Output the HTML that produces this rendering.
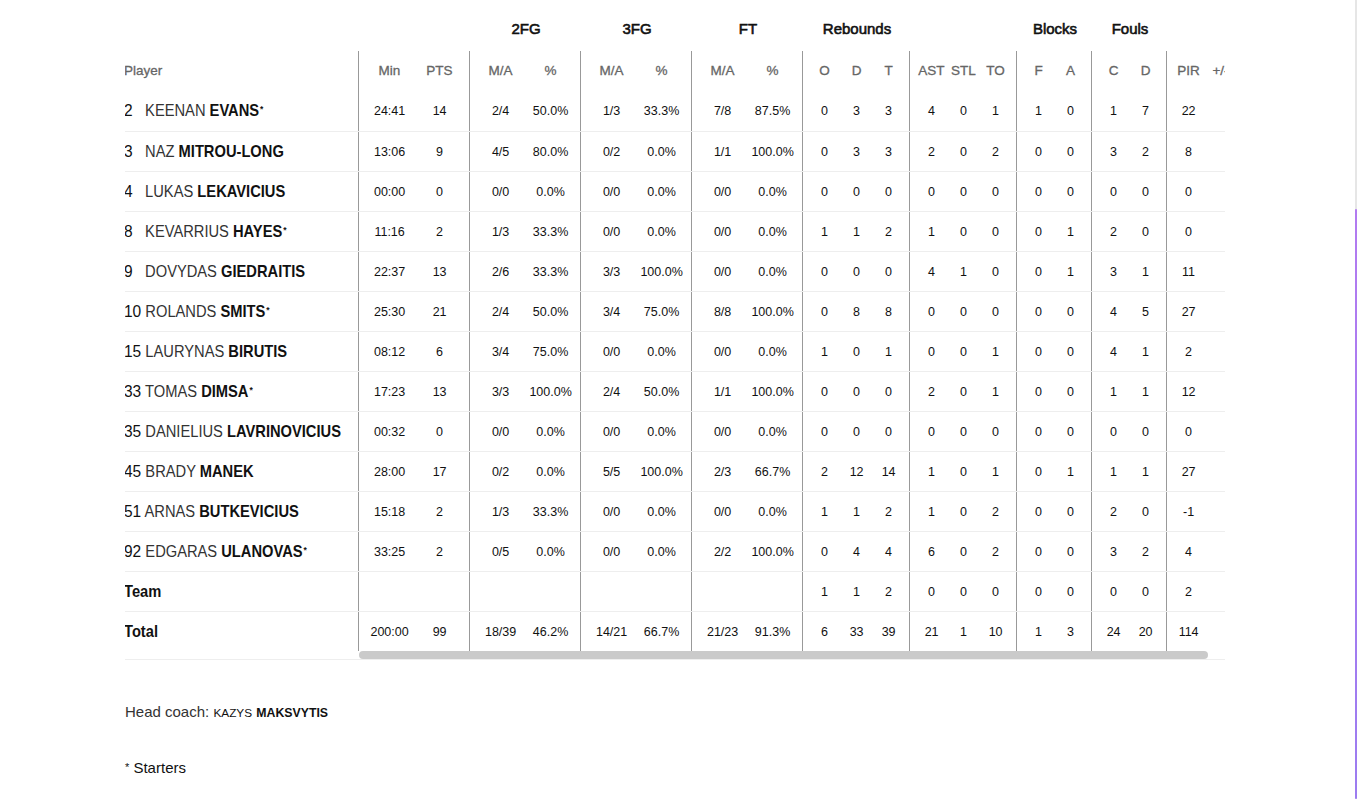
<!DOCTYPE html><html><head><meta charset="utf-8"><title>Box score</title><style>
*{box-sizing:border-box;margin:0;padding:0}
html,body{width:1357px;height:799px;overflow:hidden;background:#fff}
body{font-family:"Liberation Sans",sans-serif;color:#111;position:relative}
.a{position:absolute}
.clip{position:absolute;left:125px;top:0;width:1100px;height:700px;overflow:hidden}
.g{position:absolute;top:17px;height:24px;line-height:24px;font-size:15px;font-weight:normal;-webkit-text-stroke:0.6px #111;text-align:center;color:#111}
.h{position:absolute;height:40px;line-height:40px;font-size:13.5px;color:#666;-webkit-text-stroke:0.3px #666;text-align:center;white-space:nowrap}
.c{position:absolute;height:40px;line-height:40px;font-size:12.5px;color:#111;text-align:center;white-space:nowrap}
.p{position:absolute;left:-1px;height:40px;line-height:40px;font-size:14.7px;color:#111;white-space:nowrap;transform:scaleY(1.09);transform-origin:0 25px}
.p .n{display:inline-block;min-width:17px;font-size:15.5px}
.p b{font-weight:bold}
.p .f{color:#333}
.p sup{font-size:8.5px;vertical-align:4px;line-height:0;margin-left:1px;font-weight:bold}
.rl{position:absolute;left:0;width:1100px;height:1px;background:#eee}
.vl{position:absolute;top:51px;width:1px;height:600px;background:#999}
.sb{position:absolute;left:1px;top:651px;width:849px;height:8px;border-radius:4px;background:#cacaca}
.vs{position:absolute;left:1355px;top:0;width:2px;height:799px;background:#e6e6e6}
.vt{position:absolute;left:1355px;top:209px;width:2px;height:590px;border-radius:1px;background:linear-gradient(#b27bf0,#9c7cf0)}
.foot{position:absolute;left:125px;font-size:15px;color:#111;white-space:nowrap}
</style></head><body>
<div class="clip">
<div class="g" style="left:345px;width:112px">2FG</div>
<div class="g" style="left:456px;width:112px">3FG</div>
<div class="g" style="left:567px;width:112px">FT</div>
<div class="g" style="left:678px;width:108px">Rebounds</div>
<div class="g" style="left:892px;width:76px">Blocks</div>
<div class="g" style="left:967px;width:76px">Fouls</div>
<div class="vl" style="left:233px"></div>
<div class="vl" style="left:344px"></div>
<div class="vl" style="left:455px"></div>
<div class="vl" style="left:566px"></div>
<div class="vl" style="left:677px"></div>
<div class="vl" style="left:784px"></div>
<div class="vl" style="left:891px"></div>
<div class="vl" style="left:966px"></div>
<div class="vl" style="left:1041px"></div>
<div class="h" style="left:-1px;top:51px;text-align:left">Player</div>
<div class="h" style="left:239.5px;top:51px;width:50px">Min</div>
<div class="h" style="left:289.5px;top:51px;width:50px">PTS</div>
<div class="h" style="left:350.5px;top:51px;width:50px">M/A</div>
<div class="h" style="left:400.5px;top:51px;width:50px">%</div>
<div class="h" style="left:461.5px;top:51px;width:50px">M/A</div>
<div class="h" style="left:511.5px;top:51px;width:50px">%</div>
<div class="h" style="left:572.5px;top:51px;width:50px">M/A</div>
<div class="h" style="left:622.5px;top:51px;width:50px">%</div>
<div class="h" style="left:683.5px;top:51px;width:32px">O</div>
<div class="h" style="left:715.5px;top:51px;width:32px">D</div>
<div class="h" style="left:747.5px;top:51px;width:32px">T</div>
<div class="h" style="left:790.5px;top:51px;width:32px">AST</div>
<div class="h" style="left:822.5px;top:51px;width:32px">STL</div>
<div class="h" style="left:854.5px;top:51px;width:32px">TO</div>
<div class="h" style="left:897.5px;top:51px;width:32px">F</div>
<div class="h" style="left:929.5px;top:51px;width:32px">A</div>
<div class="h" style="left:972.5px;top:51px;width:32px">C</div>
<div class="h" style="left:1004.5px;top:51px;width:32px">D</div>
<div class="h" style="left:1047.5px;top:51px;width:32px">PIR</div>
<div class="h" style="left:1079.5px;top:51px;width:32px">+/-</div>
<div class="p" style="top:91px"><span class="n">2</span> <span class="f">KEENAN</span> <b>EVANS</b><sup>*</sup></div>
<div class="c" style="left:239.6px;top:91px;width:50px">24:41</div>
<div class="c" style="left:289.6px;top:91px;width:50px">14</div>
<div class="c" style="left:350.6px;top:91px;width:50px">2/4</div>
<div class="c" style="left:400.6px;top:91px;width:50px">50.0%</div>
<div class="c" style="left:461.6px;top:91px;width:50px">1/3</div>
<div class="c" style="left:511.6px;top:91px;width:50px">33.3%</div>
<div class="c" style="left:572.6px;top:91px;width:50px">7/8</div>
<div class="c" style="left:622.6px;top:91px;width:50px">87.5%</div>
<div class="c" style="left:683.6px;top:91px;width:32px">0</div>
<div class="c" style="left:715.6px;top:91px;width:32px">3</div>
<div class="c" style="left:747.6px;top:91px;width:32px">3</div>
<div class="c" style="left:790.6px;top:91px;width:32px">4</div>
<div class="c" style="left:822.6px;top:91px;width:32px">0</div>
<div class="c" style="left:854.6px;top:91px;width:32px">1</div>
<div class="c" style="left:897.6px;top:91px;width:32px">1</div>
<div class="c" style="left:929.6px;top:91px;width:32px">0</div>
<div class="c" style="left:972.6px;top:91px;width:32px">1</div>
<div class="c" style="left:1004.6px;top:91px;width:32px">7</div>
<div class="c" style="left:1047.6px;top:91px;width:32px">22</div>
<div class="p" style="top:132px"><span class="n">3</span> <span class="f">NAZ</span> <b>MITROU-LONG</b></div>
<div class="c" style="left:239.6px;top:132px;width:50px">13:06</div>
<div class="c" style="left:289.6px;top:132px;width:50px">9</div>
<div class="c" style="left:350.6px;top:132px;width:50px">4/5</div>
<div class="c" style="left:400.6px;top:132px;width:50px">80.0%</div>
<div class="c" style="left:461.6px;top:132px;width:50px">0/2</div>
<div class="c" style="left:511.6px;top:132px;width:50px">0.0%</div>
<div class="c" style="left:572.6px;top:132px;width:50px">1/1</div>
<div class="c" style="left:622.6px;top:132px;width:50px">100.0%</div>
<div class="c" style="left:683.6px;top:132px;width:32px">0</div>
<div class="c" style="left:715.6px;top:132px;width:32px">3</div>
<div class="c" style="left:747.6px;top:132px;width:32px">3</div>
<div class="c" style="left:790.6px;top:132px;width:32px">2</div>
<div class="c" style="left:822.6px;top:132px;width:32px">0</div>
<div class="c" style="left:854.6px;top:132px;width:32px">2</div>
<div class="c" style="left:897.6px;top:132px;width:32px">0</div>
<div class="c" style="left:929.6px;top:132px;width:32px">0</div>
<div class="c" style="left:972.6px;top:132px;width:32px">3</div>
<div class="c" style="left:1004.6px;top:132px;width:32px">2</div>
<div class="c" style="left:1047.6px;top:132px;width:32px">8</div>
<div class="p" style="top:172px"><span class="n">4</span> <span class="f">LUKAS</span> <b>LEKAVICIUS</b></div>
<div class="c" style="left:239.6px;top:172px;width:50px">00:00</div>
<div class="c" style="left:289.6px;top:172px;width:50px">0</div>
<div class="c" style="left:350.6px;top:172px;width:50px">0/0</div>
<div class="c" style="left:400.6px;top:172px;width:50px">0.0%</div>
<div class="c" style="left:461.6px;top:172px;width:50px">0/0</div>
<div class="c" style="left:511.6px;top:172px;width:50px">0.0%</div>
<div class="c" style="left:572.6px;top:172px;width:50px">0/0</div>
<div class="c" style="left:622.6px;top:172px;width:50px">0.0%</div>
<div class="c" style="left:683.6px;top:172px;width:32px">0</div>
<div class="c" style="left:715.6px;top:172px;width:32px">0</div>
<div class="c" style="left:747.6px;top:172px;width:32px">0</div>
<div class="c" style="left:790.6px;top:172px;width:32px">0</div>
<div class="c" style="left:822.6px;top:172px;width:32px">0</div>
<div class="c" style="left:854.6px;top:172px;width:32px">0</div>
<div class="c" style="left:897.6px;top:172px;width:32px">0</div>
<div class="c" style="left:929.6px;top:172px;width:32px">0</div>
<div class="c" style="left:972.6px;top:172px;width:32px">0</div>
<div class="c" style="left:1004.6px;top:172px;width:32px">0</div>
<div class="c" style="left:1047.6px;top:172px;width:32px">0</div>
<div class="p" style="top:212px"><span class="n">8</span> <span class="f">KEVARRIUS</span> <b>HAYES</b><sup>*</sup></div>
<div class="c" style="left:239.6px;top:212px;width:50px">11:16</div>
<div class="c" style="left:289.6px;top:212px;width:50px">2</div>
<div class="c" style="left:350.6px;top:212px;width:50px">1/3</div>
<div class="c" style="left:400.6px;top:212px;width:50px">33.3%</div>
<div class="c" style="left:461.6px;top:212px;width:50px">0/0</div>
<div class="c" style="left:511.6px;top:212px;width:50px">0.0%</div>
<div class="c" style="left:572.6px;top:212px;width:50px">0/0</div>
<div class="c" style="left:622.6px;top:212px;width:50px">0.0%</div>
<div class="c" style="left:683.6px;top:212px;width:32px">1</div>
<div class="c" style="left:715.6px;top:212px;width:32px">1</div>
<div class="c" style="left:747.6px;top:212px;width:32px">2</div>
<div class="c" style="left:790.6px;top:212px;width:32px">1</div>
<div class="c" style="left:822.6px;top:212px;width:32px">0</div>
<div class="c" style="left:854.6px;top:212px;width:32px">0</div>
<div class="c" style="left:897.6px;top:212px;width:32px">0</div>
<div class="c" style="left:929.6px;top:212px;width:32px">1</div>
<div class="c" style="left:972.6px;top:212px;width:32px">2</div>
<div class="c" style="left:1004.6px;top:212px;width:32px">0</div>
<div class="c" style="left:1047.6px;top:212px;width:32px">0</div>
<div class="p" style="top:252px"><span class="n">9</span> <span class="f">DOVYDAS</span> <b>GIEDRAITIS</b></div>
<div class="c" style="left:239.6px;top:252px;width:50px">22:37</div>
<div class="c" style="left:289.6px;top:252px;width:50px">13</div>
<div class="c" style="left:350.6px;top:252px;width:50px">2/6</div>
<div class="c" style="left:400.6px;top:252px;width:50px">33.3%</div>
<div class="c" style="left:461.6px;top:252px;width:50px">3/3</div>
<div class="c" style="left:511.6px;top:252px;width:50px">100.0%</div>
<div class="c" style="left:572.6px;top:252px;width:50px">0/0</div>
<div class="c" style="left:622.6px;top:252px;width:50px">0.0%</div>
<div class="c" style="left:683.6px;top:252px;width:32px">0</div>
<div class="c" style="left:715.6px;top:252px;width:32px">0</div>
<div class="c" style="left:747.6px;top:252px;width:32px">0</div>
<div class="c" style="left:790.6px;top:252px;width:32px">4</div>
<div class="c" style="left:822.6px;top:252px;width:32px">1</div>
<div class="c" style="left:854.6px;top:252px;width:32px">0</div>
<div class="c" style="left:897.6px;top:252px;width:32px">0</div>
<div class="c" style="left:929.6px;top:252px;width:32px">1</div>
<div class="c" style="left:972.6px;top:252px;width:32px">3</div>
<div class="c" style="left:1004.6px;top:252px;width:32px">1</div>
<div class="c" style="left:1047.6px;top:252px;width:32px">11</div>
<div class="p" style="top:292px"><span class="n">10</span> <span class="f">ROLANDS</span> <b>SMITS</b><sup>*</sup></div>
<div class="c" style="left:239.6px;top:292px;width:50px">25:30</div>
<div class="c" style="left:289.6px;top:292px;width:50px">21</div>
<div class="c" style="left:350.6px;top:292px;width:50px">2/4</div>
<div class="c" style="left:400.6px;top:292px;width:50px">50.0%</div>
<div class="c" style="left:461.6px;top:292px;width:50px">3/4</div>
<div class="c" style="left:511.6px;top:292px;width:50px">75.0%</div>
<div class="c" style="left:572.6px;top:292px;width:50px">8/8</div>
<div class="c" style="left:622.6px;top:292px;width:50px">100.0%</div>
<div class="c" style="left:683.6px;top:292px;width:32px">0</div>
<div class="c" style="left:715.6px;top:292px;width:32px">8</div>
<div class="c" style="left:747.6px;top:292px;width:32px">8</div>
<div class="c" style="left:790.6px;top:292px;width:32px">0</div>
<div class="c" style="left:822.6px;top:292px;width:32px">0</div>
<div class="c" style="left:854.6px;top:292px;width:32px">0</div>
<div class="c" style="left:897.6px;top:292px;width:32px">0</div>
<div class="c" style="left:929.6px;top:292px;width:32px">0</div>
<div class="c" style="left:972.6px;top:292px;width:32px">4</div>
<div class="c" style="left:1004.6px;top:292px;width:32px">5</div>
<div class="c" style="left:1047.6px;top:292px;width:32px">27</div>
<div class="p" style="top:332px"><span class="n">15</span> <span class="f">LAURYNAS</span> <b>BIRUTIS</b></div>
<div class="c" style="left:239.6px;top:332px;width:50px">08:12</div>
<div class="c" style="left:289.6px;top:332px;width:50px">6</div>
<div class="c" style="left:350.6px;top:332px;width:50px">3/4</div>
<div class="c" style="left:400.6px;top:332px;width:50px">75.0%</div>
<div class="c" style="left:461.6px;top:332px;width:50px">0/0</div>
<div class="c" style="left:511.6px;top:332px;width:50px">0.0%</div>
<div class="c" style="left:572.6px;top:332px;width:50px">0/0</div>
<div class="c" style="left:622.6px;top:332px;width:50px">0.0%</div>
<div class="c" style="left:683.6px;top:332px;width:32px">1</div>
<div class="c" style="left:715.6px;top:332px;width:32px">0</div>
<div class="c" style="left:747.6px;top:332px;width:32px">1</div>
<div class="c" style="left:790.6px;top:332px;width:32px">0</div>
<div class="c" style="left:822.6px;top:332px;width:32px">0</div>
<div class="c" style="left:854.6px;top:332px;width:32px">1</div>
<div class="c" style="left:897.6px;top:332px;width:32px">0</div>
<div class="c" style="left:929.6px;top:332px;width:32px">0</div>
<div class="c" style="left:972.6px;top:332px;width:32px">4</div>
<div class="c" style="left:1004.6px;top:332px;width:32px">1</div>
<div class="c" style="left:1047.6px;top:332px;width:32px">2</div>
<div class="p" style="top:372px"><span class="n">33</span> <span class="f">TOMAS</span> <b>DIMSA</b><sup>*</sup></div>
<div class="c" style="left:239.6px;top:372px;width:50px">17:23</div>
<div class="c" style="left:289.6px;top:372px;width:50px">13</div>
<div class="c" style="left:350.6px;top:372px;width:50px">3/3</div>
<div class="c" style="left:400.6px;top:372px;width:50px">100.0%</div>
<div class="c" style="left:461.6px;top:372px;width:50px">2/4</div>
<div class="c" style="left:511.6px;top:372px;width:50px">50.0%</div>
<div class="c" style="left:572.6px;top:372px;width:50px">1/1</div>
<div class="c" style="left:622.6px;top:372px;width:50px">100.0%</div>
<div class="c" style="left:683.6px;top:372px;width:32px">0</div>
<div class="c" style="left:715.6px;top:372px;width:32px">0</div>
<div class="c" style="left:747.6px;top:372px;width:32px">0</div>
<div class="c" style="left:790.6px;top:372px;width:32px">2</div>
<div class="c" style="left:822.6px;top:372px;width:32px">0</div>
<div class="c" style="left:854.6px;top:372px;width:32px">1</div>
<div class="c" style="left:897.6px;top:372px;width:32px">0</div>
<div class="c" style="left:929.6px;top:372px;width:32px">0</div>
<div class="c" style="left:972.6px;top:372px;width:32px">1</div>
<div class="c" style="left:1004.6px;top:372px;width:32px">1</div>
<div class="c" style="left:1047.6px;top:372px;width:32px">12</div>
<div class="p" style="top:412px"><span class="n">35</span> <span class="f">DANIELIUS</span> <b>LAVRINOVICIUS</b></div>
<div class="c" style="left:239.6px;top:412px;width:50px">00:32</div>
<div class="c" style="left:289.6px;top:412px;width:50px">0</div>
<div class="c" style="left:350.6px;top:412px;width:50px">0/0</div>
<div class="c" style="left:400.6px;top:412px;width:50px">0.0%</div>
<div class="c" style="left:461.6px;top:412px;width:50px">0/0</div>
<div class="c" style="left:511.6px;top:412px;width:50px">0.0%</div>
<div class="c" style="left:572.6px;top:412px;width:50px">0/0</div>
<div class="c" style="left:622.6px;top:412px;width:50px">0.0%</div>
<div class="c" style="left:683.6px;top:412px;width:32px">0</div>
<div class="c" style="left:715.6px;top:412px;width:32px">0</div>
<div class="c" style="left:747.6px;top:412px;width:32px">0</div>
<div class="c" style="left:790.6px;top:412px;width:32px">0</div>
<div class="c" style="left:822.6px;top:412px;width:32px">0</div>
<div class="c" style="left:854.6px;top:412px;width:32px">0</div>
<div class="c" style="left:897.6px;top:412px;width:32px">0</div>
<div class="c" style="left:929.6px;top:412px;width:32px">0</div>
<div class="c" style="left:972.6px;top:412px;width:32px">0</div>
<div class="c" style="left:1004.6px;top:412px;width:32px">0</div>
<div class="c" style="left:1047.6px;top:412px;width:32px">0</div>
<div class="p" style="top:452px"><span class="n">45</span> <span class="f">BRADY</span> <b>MANEK</b></div>
<div class="c" style="left:239.6px;top:452px;width:50px">28:00</div>
<div class="c" style="left:289.6px;top:452px;width:50px">17</div>
<div class="c" style="left:350.6px;top:452px;width:50px">0/2</div>
<div class="c" style="left:400.6px;top:452px;width:50px">0.0%</div>
<div class="c" style="left:461.6px;top:452px;width:50px">5/5</div>
<div class="c" style="left:511.6px;top:452px;width:50px">100.0%</div>
<div class="c" style="left:572.6px;top:452px;width:50px">2/3</div>
<div class="c" style="left:622.6px;top:452px;width:50px">66.7%</div>
<div class="c" style="left:683.6px;top:452px;width:32px">2</div>
<div class="c" style="left:715.6px;top:452px;width:32px">12</div>
<div class="c" style="left:747.6px;top:452px;width:32px">14</div>
<div class="c" style="left:790.6px;top:452px;width:32px">1</div>
<div class="c" style="left:822.6px;top:452px;width:32px">0</div>
<div class="c" style="left:854.6px;top:452px;width:32px">1</div>
<div class="c" style="left:897.6px;top:452px;width:32px">0</div>
<div class="c" style="left:929.6px;top:452px;width:32px">1</div>
<div class="c" style="left:972.6px;top:452px;width:32px">1</div>
<div class="c" style="left:1004.6px;top:452px;width:32px">1</div>
<div class="c" style="left:1047.6px;top:452px;width:32px">27</div>
<div class="p" style="top:492px"><span class="n">51</span> <span class="f">ARNAS</span> <b>BUTKEVICIUS</b></div>
<div class="c" style="left:239.6px;top:492px;width:50px">15:18</div>
<div class="c" style="left:289.6px;top:492px;width:50px">2</div>
<div class="c" style="left:350.6px;top:492px;width:50px">1/3</div>
<div class="c" style="left:400.6px;top:492px;width:50px">33.3%</div>
<div class="c" style="left:461.6px;top:492px;width:50px">0/0</div>
<div class="c" style="left:511.6px;top:492px;width:50px">0.0%</div>
<div class="c" style="left:572.6px;top:492px;width:50px">0/0</div>
<div class="c" style="left:622.6px;top:492px;width:50px">0.0%</div>
<div class="c" style="left:683.6px;top:492px;width:32px">1</div>
<div class="c" style="left:715.6px;top:492px;width:32px">1</div>
<div class="c" style="left:747.6px;top:492px;width:32px">2</div>
<div class="c" style="left:790.6px;top:492px;width:32px">1</div>
<div class="c" style="left:822.6px;top:492px;width:32px">0</div>
<div class="c" style="left:854.6px;top:492px;width:32px">2</div>
<div class="c" style="left:897.6px;top:492px;width:32px">0</div>
<div class="c" style="left:929.6px;top:492px;width:32px">0</div>
<div class="c" style="left:972.6px;top:492px;width:32px">2</div>
<div class="c" style="left:1004.6px;top:492px;width:32px">0</div>
<div class="c" style="left:1047.6px;top:492px;width:32px">-1</div>
<div class="p" style="top:532px"><span class="n">92</span> <span class="f">EDGARAS</span> <b>ULANOVAS</b><sup>*</sup></div>
<div class="c" style="left:239.6px;top:532px;width:50px">33:25</div>
<div class="c" style="left:289.6px;top:532px;width:50px">2</div>
<div class="c" style="left:350.6px;top:532px;width:50px">0/5</div>
<div class="c" style="left:400.6px;top:532px;width:50px">0.0%</div>
<div class="c" style="left:461.6px;top:532px;width:50px">0/0</div>
<div class="c" style="left:511.6px;top:532px;width:50px">0.0%</div>
<div class="c" style="left:572.6px;top:532px;width:50px">2/2</div>
<div class="c" style="left:622.6px;top:532px;width:50px">100.0%</div>
<div class="c" style="left:683.6px;top:532px;width:32px">0</div>
<div class="c" style="left:715.6px;top:532px;width:32px">4</div>
<div class="c" style="left:747.6px;top:532px;width:32px">4</div>
<div class="c" style="left:790.6px;top:532px;width:32px">6</div>
<div class="c" style="left:822.6px;top:532px;width:32px">0</div>
<div class="c" style="left:854.6px;top:532px;width:32px">2</div>
<div class="c" style="left:897.6px;top:532px;width:32px">0</div>
<div class="c" style="left:929.6px;top:532px;width:32px">0</div>
<div class="c" style="left:972.6px;top:532px;width:32px">3</div>
<div class="c" style="left:1004.6px;top:532px;width:32px">2</div>
<div class="c" style="left:1047.6px;top:532px;width:32px">4</div>
<div class="p" style="top:571.5px"><b>Team</b></div>
<div class="c" style="left:683.6px;top:572px;width:32px">1</div>
<div class="c" style="left:715.6px;top:572px;width:32px">1</div>
<div class="c" style="left:747.6px;top:572px;width:32px">2</div>
<div class="c" style="left:790.6px;top:572px;width:32px">0</div>
<div class="c" style="left:822.6px;top:572px;width:32px">0</div>
<div class="c" style="left:854.6px;top:572px;width:32px">0</div>
<div class="c" style="left:897.6px;top:572px;width:32px">0</div>
<div class="c" style="left:929.6px;top:572px;width:32px">0</div>
<div class="c" style="left:972.6px;top:572px;width:32px">0</div>
<div class="c" style="left:1004.6px;top:572px;width:32px">0</div>
<div class="c" style="left:1047.6px;top:572px;width:32px">2</div>
<div class="p" style="top:611.5px"><b>Total</b></div>
<div class="c" style="left:239.6px;top:612px;width:50px">200:00</div>
<div class="c" style="left:289.6px;top:612px;width:50px">99</div>
<div class="c" style="left:350.6px;top:612px;width:50px">18/39</div>
<div class="c" style="left:400.6px;top:612px;width:50px">46.2%</div>
<div class="c" style="left:461.6px;top:612px;width:50px">14/21</div>
<div class="c" style="left:511.6px;top:612px;width:50px">66.7%</div>
<div class="c" style="left:572.6px;top:612px;width:50px">21/23</div>
<div class="c" style="left:622.6px;top:612px;width:50px">91.3%</div>
<div class="c" style="left:683.6px;top:612px;width:32px">6</div>
<div class="c" style="left:715.6px;top:612px;width:32px">33</div>
<div class="c" style="left:747.6px;top:612px;width:32px">39</div>
<div class="c" style="left:790.6px;top:612px;width:32px">21</div>
<div class="c" style="left:822.6px;top:612px;width:32px">1</div>
<div class="c" style="left:854.6px;top:612px;width:32px">10</div>
<div class="c" style="left:897.6px;top:612px;width:32px">1</div>
<div class="c" style="left:929.6px;top:612px;width:32px">3</div>
<div class="c" style="left:972.6px;top:612px;width:32px">24</div>
<div class="c" style="left:1004.6px;top:612px;width:32px">20</div>
<div class="c" style="left:1047.6px;top:612px;width:32px">114</div>
<div class="rl" style="top:131px"></div>
<div class="rl" style="top:171px"></div>
<div class="rl" style="top:211px"></div>
<div class="rl" style="top:251px"></div>
<div class="rl" style="top:291px"></div>
<div class="rl" style="top:331px"></div>
<div class="rl" style="top:371px"></div>
<div class="rl" style="top:411px"></div>
<div class="rl" style="top:451px"></div>
<div class="rl" style="top:491px"></div>
<div class="rl" style="top:531px"></div>
<div class="rl" style="top:571px"></div>
<div class="rl" style="top:611px"></div>
<div class="rl" style="top:659px"></div>
<div class="sb" style="left:234px"></div>
</div>
<div class="foot" style="top:700px;line-height:24px"><span style="color:#333">Head coach:</span> <span style="font-size:11.8px">KAZYS</span> <b style="font-size:12.3px">MAKSVYTIS</b></div>
<div class="foot" style="top:756px;line-height:24px;left:125px"><span style="font-size:11px;vertical-align:2px;line-height:0">*</span> Starters</div>
<div class="vs"></div><div class="vt"></div>
</body></html>
